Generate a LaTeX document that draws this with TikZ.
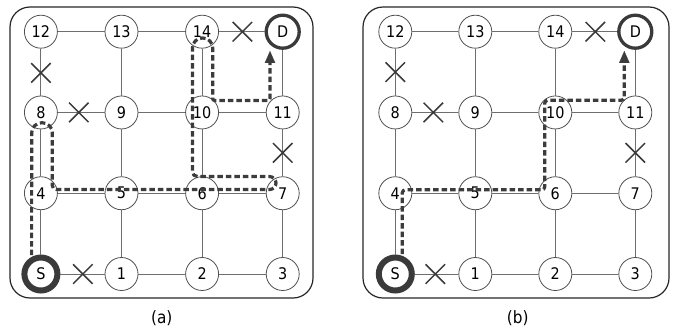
\documentclass[tikz,border=0pt]{standalone}
\usepackage{fontspec}
\setmainfont{DejaVu Sans}[FakeStretch=0.9]
\usetikzlibrary{arrows.meta,shapes.misc,calc}
\definecolor{edgec}{HTML}{6E6E6E}
\definecolor{nodec}{HTML}{505050}
\definecolor{boldc}{HTML}{3A3A3A}
\definecolor{pathc}{HTML}{3C3C3C}
\definecolor{framec}{HTML}{262626}
\tikzset{
  nd/.style={circle,draw=nodec,line width=0.8pt,fill=white,minimum size=33pt,inner sep=0pt,font=\fontsize{16}{16}\selectfont,text=black},
  stS/.style={draw=boldc,line width=6pt},
  stD/.style={draw=boldc,line width=3.3pt},
  edge/.style={draw=edgec,line width=1pt},
  xm/.style={draw=boldc,cross out,line width=1.5pt,minimum size=18pt,inner sep=0pt},
  route/.style={draw=pathc,line width=3.2pt,dash pattern=on 5.5pt off 3pt},
  frame/.style={draw=framec,line width=1.2pt,rounded corners=20pt},
  lbl/.style={font=\fontsize{17}{17}\selectfont,text=black},
  tipA/.style={-{Triangle[length=12pt,width=10.5pt,line width=0.1pt]}}
}
\begin{document}
\begin{tikzpicture}[x=1pt,y=-1pt]
\useasboundingbox (0,0) rectangle (676,327);
\draw[frame] (10,7) rectangle (313,298);
\draw[frame] (363,7) rectangle (669,298);
\foreach \p/\ox/\dx in {a/40.9/80.6, b/395.3/80}{
  \foreach \lab/\i/\j in {S/0/0,1/1/0,2/2/0,3/3/0,4/0/1,5/1/1,6/2/1,7/3/1,8/0/2,9/1/2,10/2/2,11/3/2,12/0/3,13/1/3,14/2/3,D/3/3}{
    \node[nd,st\lab/.try] (\p\lab) at ({\ox+\i*\dx},{274-\j*80.77}) {\lab};
  }
}
\foreach \p in {a,b}{
  \foreach \u/\v in {S/1,1/2,2/3,4/5,5/6,6/7,8/9,9/10,10/11,12/13,13/14,14/D,S/4,4/8,8/12,1/5,5/9,9/13,2/6,6/10,10/14,3/7,7/11,11/D}{
    \draw[edge] (\p\u) -- (\p\v);
  }
}
% crosses (a)
\node[xm] (ax1) at ($(a12)!0.51!(a8)$) {};
\node[xm] (ax2) at ($(a8)!0.47!(a9)$) {};
\node[xm] (ax3) at ($(aS)!0.52!(a1)$) {};
\node[xm] (ax4) at ($(a14)!0.5!(aD)$) {};
\node[xm] (ax5) at ($(a11)!0.5!(a7)$) {};
% crosses (b)
\node[xm] (bx1) at ($(b12)!0.5!(b8)$) {};
\node[xm] (bx2) at ($(b8)!0.475!(b9)$) {};
\node[xm] (bx3) at ($(bS)!0.5!(b1)$) {};
\node[xm] (bx4) at ($(b14)!0.5!(bD)$) {};
\node[xm] (bx5) at ($(b11)!0.5!(b7)$) {};
% routes
\coordinate (aend) at ($(aD)+(-12.7,19.3)$);
\coordinate (bend) at ($(bD)+(-11,19.3)$);
\draw[route,tipA,rounded corners=4pt]
  ($(aS)+(-9.3,-19)$)
  [rounded corners=10pt] -- ($(a8)+(-9.2,10.3)$) -- ($(a8)+(11.4,10.3)$)
  [rounded corners=4pt] -- ($(a4)+(11.4,-3.7)$)
  [rounded corners=6.5pt] -- ($(a7)+(-6.7,-3.7)$) -- ($(a7)+(-6.7,-16.7)$)
  [rounded corners=5pt] -- ($(a6)+(-9.7,-16.7)$)
  [rounded corners=10pt] -- ($(a14)+(-9.7,6.3)$) -- ($(a14)+(10.6,6.3)$)
  [rounded corners=2pt] -- ($(a10)+(10.6,-12)$) -- ($(a11)+(-12.7,-12)$) -- (aend);
\draw[route,tipA,rounded corners=3pt]
  ($(bS)+(7,-20)$) -- ($(b4)+(7,-3.4)$) -- ($(b6)+(-10.6,-3.4)$)
  -- ($(b10)+(-10.6,-12.2)$) -- ($(b11)+(-11,-12.2)$) -- (bend);
\node[lbl] (la) at (161.7,318) {(a)};
\node[lbl] (lb) at (517.7,318) {(b)};
\end{tikzpicture}
\end{document}
